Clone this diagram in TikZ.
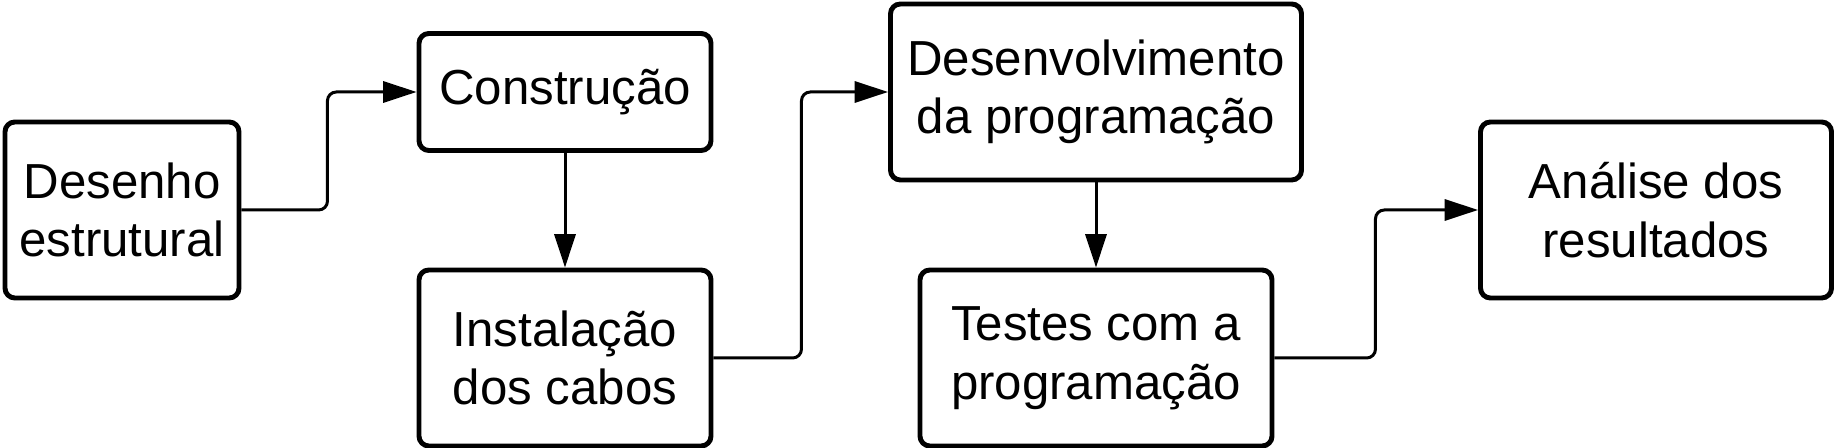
\documentclass[tikz,border=0pt]{standalone}
\usepackage{fontspec}
\setmainfont{Liberation Sans}
\usepackage{tikz}
\usetikzlibrary{arrows.meta}
\tikzstyle{stage} = [rectangle, rounded corners=2.8pt, line width=1.4pt, minimum width=2.34cm, minimum height=1.76cm, text centered, align=center, draw=black, fill=white, font=\fontsize{14pt}{16.7pt}\selectfont]
\tikzstyle{arrow} = [line width=0.85pt, rounded corners=2.5pt, -{Triangle[length=9.5pt, width=6pt]}]

\begin{document}
\begin{tikzpicture}
			\useasboundingbox (0,0) rectangle (18.36,4.48);
			\node (desenho) [stage] at (1.22,2.38) {Desenho\\estrutural};
			\node (constr) [stage, minimum width=2.92cm, minimum height=1.17cm, right of=desenho, xshift=3.43cm, yshift=1.18cm] {Construção};
			\node (instal) [stage, minimum width=2.92cm, below of=constr, yshift=-1.66cm] {Instalação\\dos cabos};
			\node (desenv) [stage, minimum width=4.11cm, right of=constr, xshift=4.31cm] {Desenvolvimento\\da programação};
			\node (testes) [stage, minimum width=3.52cm, below of=desenv, yshift=-1.66cm] {Testes com a\\programação};
			\node (analise) [stage, minimum width=3.51cm, right of=testes, xshift=4.60cm, yshift=1.48cm] {Análise dos\\resultados};
			%\node (fim) [right of=analise] {};
			\draw [arrow] (desenho.east) -- ++(0.86,0) |- (constr.west);
			\draw [arrow] (constr.south) -- (instal.north);
			\draw [arrow] (instal.east) -- ++(0.88,0) |- (desenv.west);
			\draw [arrow] (desenv.south) -- (testes.north);
			\draw [arrow] (testes.east) -- ++(1.01,0) |- (analise.west);
		\end{tikzpicture}
\end{document}
